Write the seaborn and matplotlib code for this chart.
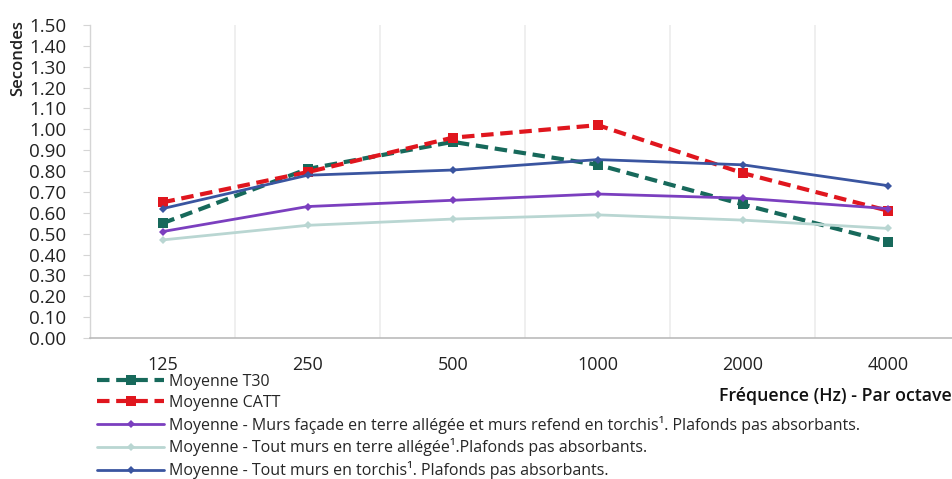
import matplotlib
matplotlib.use("Agg")
import matplotlib.pyplot as plt
import seaborn as sns
import pandas as pd
import numpy as np
from matplotlib.ticker import FixedLocator

sns.set_theme(style="white")
plt.rcParams['font.family'] = ['Open Sans', 'DejaVu Sans']

frequencies = ["125", "250", "500", "1000", "2000", "4000"]
t30 = [0.55, 0.81, 0.94, 0.83, 0.64, 0.46]
catt = [0.65, 0.795, 0.96, 1.02, 0.79, 0.61]
facade = [0.51, 0.63, 0.66, 0.69, 0.67, 0.62]
terre = [0.47, 0.54, 0.57, 0.59, 0.565, 0.525]
torchis = [0.62, 0.78, 0.805, 0.855, 0.83, 0.73]

labels = [
    "Moyenne T30",
    "Moyenne CATT",
    "Moyenne - Murs façade en terre allégée et murs refend en torchis¹. Plafonds pas absorbants.",
    "Moyenne - Tout murs en terre allégée¹.Plafonds pas absorbants.",
    "Moyenne - Tout murs en torchis¹. Plafonds pas absorbants.",
]
series = [t30, catt, facade, terre, torchis]
colors = ["#17695b", "#e0161e", "#7b3fbf", "#b9d6d2", "#3a55a0"]
styles = [
    dict(ls=(0, (3, 1.6)), lw=3.0, marker="s", ms=7),
    dict(ls=(0, (3, 1.6)), lw=3.0, marker="s", ms=7),
    dict(ls="-", lw=2.0, marker="D", ms=4.5),
    dict(ls="-", lw=2.0, marker="D", ms=4.5),
    dict(ls="-", lw=2.0, marker="D", ms=4.5),
]

fig = plt.figure(figsize=(9.53, 4.79), dpi=100)
ax = fig.add_axes([90/953, 1-338/479, 1-90/953, (338-25)/479])

pos = np.arange(len(frequencies))
for vals, lab, col, st in zip(series, labels, colors, styles):
    df = pd.DataFrame({"x": pos, "y": vals})
    sns.lineplot(data=df, x="x", y="y", ax=ax, color=col, linestyle=st["ls"],
                 linewidth=st["lw"], marker=st["marker"], markersize=st["ms"],
                 markeredgewidth=0, label=lab, legend=False)

ax.set_xlim(-0.5, 5.448)
ax.set_ylim(0, 1.5)
ax.set_xticks(pos)
ax.set_xticklabels(frequencies, fontsize=13, color="#222222")
ax.xaxis.set_minor_locator(FixedLocator(pos[:-1] + 0.5))
ax.grid(axis="x", which="minor", color="#ececec", lw=1.2)
ax.grid(axis="x", which="major", visible=False)
ax.grid(axis="y", visible=False)
yt = np.round(np.arange(0, 1.51, 0.1), 2)
ax.set_yticks(yt)
ax.set_yticklabels([f"{v:.2f}" for v in yt], fontsize=13.5, color="#222222")
ax.tick_params(axis="y", which="major", length=5, color="#d5d5d5", width=0.8, pad=12, direction="out", left=True)
ax.tick_params(axis="x", which="major", length=0, pad=13)
ax.tick_params(axis="x", which="minor", length=0)
ax.set_xlabel("")
ax.set_ylabel("")
for s in ["top", "right"]:
    ax.spines[s].set_visible(False)
ax.spines["left"].set_color("#d5d5d5")
ax.spines["left"].set_linewidth(1.0)
ax.spines["bottom"].set_color("#bbbbbb")
ax.spines["bottom"].set_linewidth(1.2)

fig.text(18/953, 1-58/479, "Secondes", rotation=90, ha="center", va="center",
         fontsize=12, color="#222222", fontweight="semibold")
fig.text(952/953, 1-396/479, "Fréquence (Hz) - Par octave", ha="right", va="center",
         fontsize=12.8, color="#111111", fontweight="semibold")

h, l = ax.get_legend_handles_labels()
fig.legend(h, l, loc="upper left", bbox_to_anchor=(97/953, 1-374/479), frameon=False,
           fontsize=11.5, handlelength=4.2, handletextpad=0.3, labelspacing=0.3,
           borderaxespad=0, borderpad=0)

fig.savefig("out.png", dpi=100)
